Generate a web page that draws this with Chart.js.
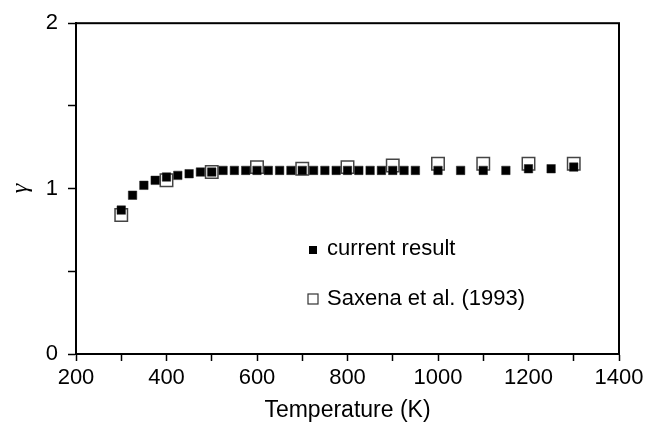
<!DOCTYPE html>
<html>
<head>
<meta charset="utf-8">
<script src="https://cdn.jsdelivr.net/npm/chart.js@4/dist/chart.umd.min.js"></script>
<style>
  html, body { margin: 0; padding: 0; background: #fff; }
  #wrap { width: 648px; height: 424px; }
</style>
</head>
<body>
<div id="wrap"><canvas id="chart" width="648" height="424"></canvas></div>
<script>
// Data
const tempCurrent = [300, 325, 350, 375, 400, 425, 450, 475, 500, 525, 550, 575, 600, 625, 650, 675,
  700, 725, 750, 775, 800, 825, 850, 875, 900, 925, 950, 1000, 1050, 1100, 1150, 1200, 1250, 1300];
const gammaCurrent = [0.87, 0.96, 1.02, 1.05, 1.07, 1.08, 1.09, 1.10, 1.10, 1.11, 1.11, 1.11, 1.11, 1.11, 1.11, 1.11,
  1.11, 1.11, 1.11, 1.11, 1.11, 1.11, 1.11, 1.11, 1.11, 1.11, 1.11, 1.11, 1.11, 1.11, 1.11, 1.12, 1.12, 1.13];
const tempSaxena = [300, 400, 500, 600, 700, 800, 900, 1000, 1100, 1200, 1300];
const gammaSaxena = [0.84, 1.05, 1.10, 1.13, 1.12, 1.13, 1.14, 1.15, 1.15, 1.15, 1.15];
const xTickLabels = [200, 400, 600, 800, 1000, 1200, 1400];
const yTickLabels = [0, 1, 2];

const FONT = "Arial, 'Liberation Sans', sans-serif";

// Frame + in-plot legend
const framePlugin = {
  id: "frame",
  afterDraw(chart) {
    const { ctx, chartArea: a } = chart;
    ctx.save();
    ctx.strokeStyle = "#000";
    ctx.lineWidth = 2;
    ctx.strokeRect(a.left, a.top, a.right - a.left, a.bottom - a.top);

    // legend
    ctx.fillStyle = "#000";
    ctx.fillRect(309, 246, 8, 8);
    ctx.fillStyle = "#fff";
    ctx.strokeStyle = "#333";
    ctx.lineWidth = 1.2;
    ctx.fillRect(308, 294, 10, 10);
    ctx.strokeRect(308, 294, 10, 10);
    ctx.fillStyle = "#000";
    ctx.font = "22px " + FONT;
    ctx.textBaseline = "middle";
    ctx.textAlign = "left";
    ctx.fillText("current result", 327, 249);
    ctx.fillText("Saxena et al. (1993)", 327, 299);
    ctx.restore();
  },
};

new Chart(document.getElementById("chart"), {
  type: "scatter",
  data: {
    datasets: [
      {
        label: "current result",
        data: tempCurrent.map((t, i) => ({ x: t, y: gammaCurrent[i] })),
        pointStyle: "rect",
        pointRadius: 6,
        backgroundColor: "#000",
        borderColor: "#222",
        borderWidth: 0.5,
      },
      {
        label: "Saxena et al. (1993)",
        data: tempSaxena.map((t, i) => ({ x: t, y: gammaSaxena[i] })),
        pointStyle: "rect",
        pointRadius: 8.8,
        backgroundColor: "#fff",
        borderColor: "#444",
        borderWidth: 1.5,
      },
    ],
  },
  options: {
    responsive: false,
    animation: false,
    layout: { padding: { left: 0, right: 29, top: 20, bottom: 0 } },
    plugins: { legend: { display: false }, tooltip: { enabled: false } },
    scales: {
      x: {
        type: "linear",
        min: 200,
        max: 1400,
        afterFit: (s) => { s.height = 70; },
        afterBuildTicks: (s) => {
          s.ticks = [];
          for (let v = 200; v <= 1400; v += 100) s.ticks.push({ value: v });
        },
        ticks: {
          autoSkip: false,
          maxRotation: 0,
          color: "#000",
          font: { family: FONT, size: 22 },
          padding: 4,
          callback: (v) => (xTickLabels.includes(v) ? String(v) : ""),
        },
        grid: { drawOnChartArea: false, tickLength: 7, tickWidth: 1.5, tickColor: "#000" },
        border: { color: "#000", width: 2 },
        title: {
          display: true,
          text: "Temperature (K)",
          color: "#000",
          font: { family: FONT, size: 23 },
          padding: { top: 2, bottom: 0 },
        },
      },
      y: {
        min: 0,
        max: 2,
        afterFit: (s) => { s.width = 76; },
        afterBuildTicks: (s) => {
          s.ticks = [];
          for (let v = 0; v <= 2; v += 0.5) s.ticks.push({ value: v });
        },
        ticks: {
          autoSkip: false,
          color: "#000",
          font: { family: FONT, size: 22 },
          padding: 10,
          callback: (v) => (yTickLabels.includes(v) ? String(v) : ""),
        },
        grid: { drawOnChartArea: false, tickLength: 8, tickWidth: 1.5, tickColor: "#000" },
        border: { color: "#000", width: 2 },
        title: {
          display: true,
          text: "γ",
          color: "#000",
          font: { family: "'Times New Roman', 'Liberation Serif', serif", size: 24, style: "italic" },
          padding: { top: 6, bottom: 0 },
        },
      },
    },
  },
  plugins: [framePlugin],
});
</script>
</body>
</html>
